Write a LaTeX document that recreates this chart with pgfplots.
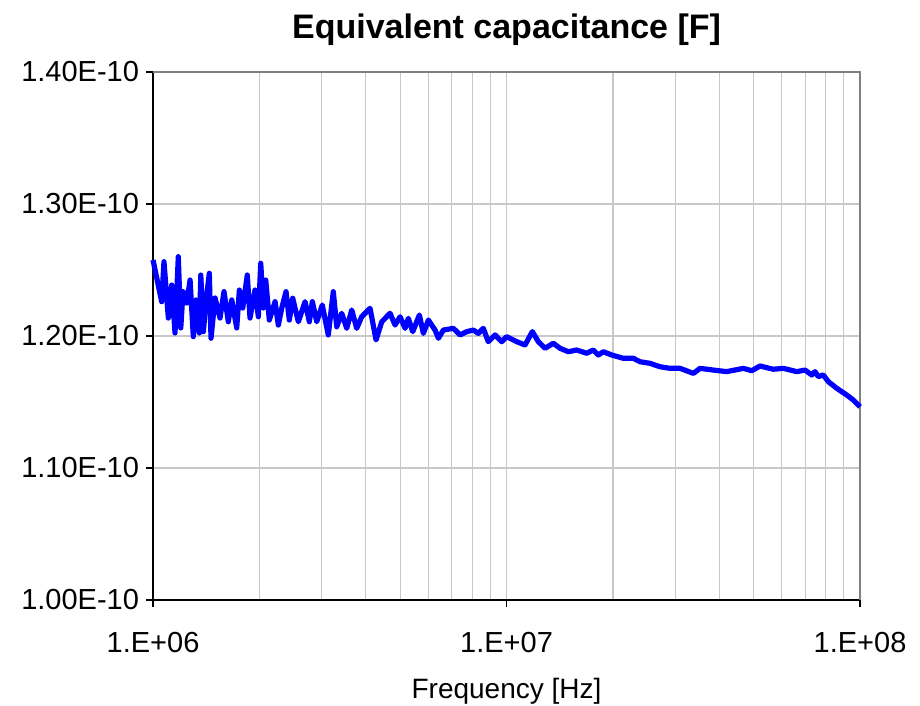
\documentclass[border=0pt]{standalone}
\usepackage{fontspec}
\setmainfont{Liberation Sans}
\usepackage{pgfplots}
\pgfplotsset{compat=1.18}

\definecolor{gridgray}{RGB}{200,200,200}
\definecolor{framegray}{RGB}{128,128,128}
\definecolor{curveblue}{RGB}{0,0,255}

\begin{document}
\begin{tikzpicture}
\begin{axis}[
  scale only axis,
  width=353.5pt, height=264pt,
  xmode=log, log basis x=10,
  xmin=1e6, xmax=1e8,
  ymin=1.0e-10, ymax=1.4e-10,
  scaled y ticks=false,
  axis lines=left,
  axis line style={-, black, line width=1pt},
  xtick={1e6,1e7,1e8},
  xticklabels={1.E+06,1.E+07,1.E+08},
  minor xtick={2e6,3e6,4e6,5e6,6e6,7e6,8e6,9e6,2e7,3e7,4e7,5e7,6e7,7e7,8e7,9e7},
  ytick={1.0e-10,1.1e-10,1.2e-10,1.3e-10,1.4e-10},
  yticklabels={1.00E-10,1.10E-10,1.20E-10,1.30E-10,1.40E-10},
  tick align=outside,
  major tick length=3.5pt,
  minor tick length=0pt,
  tick style={black, line width=0.8pt},
  grid=both,
  major grid style={gridgray, line width=0.6pt},
  minor grid style={gridgray, line width=0.6pt},
  ticklabel style={font=\fontsize{14.5}{17}\selectfont},
  xticklabel style={yshift=-9pt},
  title={Equivalent capacitance [F]},
  title style={font=\bfseries\fontsize{17}{20}\selectfont, at={(axis description cs:0.5,1)}, anchor=base, yshift=11pt},
  xlabel={Frequency [Hz]},
  xlabel style={font=\fontsize{14}{17}\selectfont, at={(axis description cs:0.5,0)}, anchor=base, yshift=-49pt},
  clip=false,
]
\draw[framegray, line width=1pt] (rel axis cs:0,1) -- (rel axis cs:1,1) -- (rel axis cs:1,0);
\addplot[curveblue, line width=2.6pt, line join=round, mark=none] coordinates {
  (1.000e6,1.2576e-10) (1.058e6,1.2260e-10) (1.074e6,1.2563e-10) (1.105e6,1.2136e-10)
  (1.130e6,1.2386e-10) (1.154e6,1.2023e-10) (1.179e6,1.2601e-10) (1.198e6,1.2061e-10)
  (1.216e6,1.2336e-10) (1.246e6,1.2250e-10) (1.273e6,1.2424e-10) (1.300e6,1.1995e-10)
  (1.323e6,1.2273e-10) (1.352e6,1.2023e-10) (1.365e6,1.2462e-10) (1.388e6,1.2033e-10)
  (1.412e6,1.2260e-10) (1.443e6,1.2475e-10) (1.459e6,1.1983e-10) (1.498e6,1.2288e-10)
  (1.547e6,1.2136e-10) (1.588e6,1.2336e-10) (1.633e6,1.2108e-10) (1.670e6,1.2273e-10)
  (1.725e6,1.2061e-10) (1.755e6,1.2348e-10) (1.794e6,1.2212e-10) (1.848e6,1.2462e-10)
  (1.881e6,1.2136e-10) (1.943e6,1.2348e-10) (1.986e6,1.2146e-10) (2.017e6,1.2551e-10)
  (2.052e6,1.2212e-10) (2.084e6,1.2424e-10) (2.133e6,1.2121e-10) (2.214e6,1.2260e-10)
  (2.262e6,1.2083e-10) (2.313e6,1.2212e-10) (2.378e6,1.2336e-10) (2.430e6,1.2121e-10)
  (2.484e6,1.2286e-10) (2.577e6,1.2108e-10) (2.692e6,1.2260e-10) (2.768e6,1.2108e-10)
  (2.823e6,1.2260e-10) (2.905e6,1.2108e-10) (3.012e6,1.2235e-10) (3.132e6,1.2008e-10)
  (3.236e6,1.2336e-10) (3.309e6,1.2070e-10) (3.418e6,1.2172e-10) (3.532e6,1.2058e-10)
  (3.649e6,1.2197e-10) (3.770e6,1.2058e-10) (3.894e6,1.2146e-10) (4.111e6,1.2210e-10)
  (4.275e6,1.1970e-10) (4.437e6,1.2108e-10) (4.683e6,1.2172e-10) (4.838e6,1.2083e-10)
  (4.998e6,1.2146e-10) (5.164e6,1.2058e-10) (5.276e6,1.2134e-10) (5.430e6,1.2033e-10)
  (5.668e6,1.2159e-10) (5.818e6,1.2020e-10) (6.011e6,1.2121e-10) (6.279e6,1.2045e-10)
  (6.415e6,1.1983e-10) (6.628e6,1.2045e-10) (7.075e6,1.2058e-10) (7.391e6,1.2008e-10)
  (7.720e6,1.2033e-10) (8.054e6,1.2045e-10) (8.321e6,1.2020e-10) (8.597e6,1.2058e-10)
  (8.881e6,1.1957e-10) (9.279e6,1.2008e-10) (9.692e6,1.1957e-10) (1.0013e7,1.1995e-10)
  (1.0687e7,1.1957e-10) (1.1281e7,1.1932e-10) (1.1830e7,1.2033e-10) (1.2302e7,1.1957e-10)
  (1.2851e7,1.1907e-10) (1.3564e7,1.1945e-10) (1.4169e7,1.1907e-10) (1.4956e7,1.1881e-10)
  (1.5797e7,1.1894e-10) (1.6859e7,1.1869e-10) (1.7600e7,1.1894e-10) (1.8183e7,1.1856e-10)
  (1.8785e7,1.1881e-10) (1.9842e7,1.1856e-10) (2.1405e7,1.1831e-10) (2.2844e7,1.1831e-10)
  (2.3863e7,1.1805e-10) (2.5467e7,1.1793e-10) (2.7182e7,1.1767e-10) (2.9011e7,1.1755e-10)
  (3.0963e7,1.1755e-10) (3.3770e7,1.1717e-10) (3.5277e7,1.1755e-10) (3.8462e7,1.1742e-10)
  (4.1975e7,1.1730e-10) (4.6761e7,1.1755e-10) (4.9394e7,1.1737e-10) (5.2136e7,1.1773e-10)
  (5.6844e7,1.1748e-10) (6.0687e7,1.1755e-10) (6.6219e7,1.1730e-10) (6.9894e7,1.1742e-10)
  (7.3015e7,1.1705e-10) (7.4601e7,1.1730e-10) (7.6222e7,1.1692e-10) (7.8746e7,1.1705e-10)
  (8.1355e7,1.1654e-10) (8.5926e7,1.1604e-10) (9.1705e7,1.1553e-10) (9.5727e7,1.1515e-10)
  (1.000e8,1.1464e-10)
};
\end{axis}
\pgfresetboundingbox
\path[use as bounding box] (current axis.south west) ++(-76.5pt,-53pt) rectangle ++(460pt,353pt);
\end{tikzpicture}
\end{document}
